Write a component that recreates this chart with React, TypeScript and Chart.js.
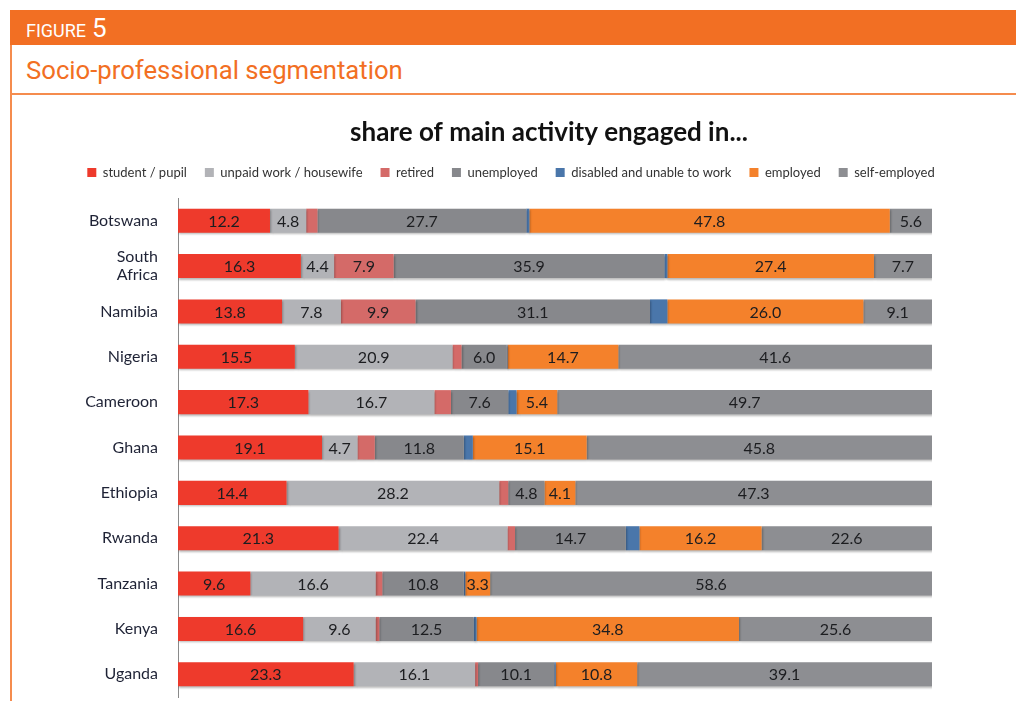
import React, { useEffect, useRef } from "react";
import { Chart, registerables } from "chart.js";

Chart.register(...registerables);

const categories: (string | string[])[] = [
  "Botswana",
  ["South", "Africa"],
  "Namibia",
  "Nigeria",
  "Cameroon",
  "Ghana",
  "Ethiopia",
  "Rwanda",
  "Tanzania",
  "Kenya",
  "Uganda",
];

const chartTitle = "share of main activity engaged in...";

const seriesNames = [
  "student / pupil",
  "unpaid work / housewife",
  "retired",
  "unemployed",
  "disabled and unable to work",
  "employed",
  "self-employed",
];

const student = [12.2, 16.3, 13.8, 15.5, 17.3, 19.1, 14.4, 21.3, 9.6, 16.6, 23.3];
const unpaid = [4.8, 4.4, 7.8, 20.9, 16.7, 4.7, 28.2, 22.4, 16.6, 9.6, 16.1];
const retired = [1.5, 7.9, 9.9, 1.2, 2.2, 2.3, 1.2, 1.0, 0.9, 0.5, 0.4];
const unemployed = [27.7, 35.9, 31.1, 6.0, 7.6, 11.8, 4.8, 14.7, 10.8, 12.5, 10.1];
const disabled = [0.4, 0.4, 2.3, 0.1, 1.1, 1.2, 0, 1.8, 0.2, 0.4, 0.2];
const employed = [47.8, 27.4, 26.0, 14.7, 5.4, 15.1, 4.1, 16.2, 3.3, 34.8, 10.8];
const selfEmployed = [5.6, 7.7, 9.1, 41.6, 49.7, 45.8, 47.3, 22.6, 58.6, 25.6, 39.1];

const seriesValues = [student, unpaid, retired, unemployed, disabled, employed, selfEmployed];
const seriesColors = ["#ee3a2c", "#b2b3b7", "#d46a68", "#87888c", "#4a76aa", "#f4812b", "#8d8e92"];

const LABEL_MIN = 3;
const FONT = "Lato, 'Open Sans', sans-serif";

const shadowPlugin = {
  id: "barShadow",
  beforeDatasetsDraw(chart: any) {
    const ctx = chart.ctx;
    ctx.save();
    ctx.shadowColor = "rgba(0,0,0,0.28)";
    ctx.shadowBlur = 2;
    ctx.shadowOffsetX = 1;
    ctx.shadowOffsetY = 1.5;
  },
  afterDatasetsDraw(chart: any) {
    chart.ctx.restore();
  },
};

const valueLabelPlugin = {
  id: "valueLabels",
  afterDraw(chart: any) {
    const ctx = chart.ctx;
    ctx.save();
    ctx.font = "16px " + FONT;
    ctx.fillStyle = "#1c1d20";
    ctx.textAlign = "center";
    ctx.textBaseline = "middle";
    chart.data.datasets.forEach((ds: any, di: number) => {
      const meta = chart.getDatasetMeta(di);
      meta.data.forEach((bar: any, i: number) => {
        const v = ds.data[i];
        if (v >= LABEL_MIN) {
          const { x, base, y } = bar.getProps(["x", "base", "y"], true);
          ctx.fillText(v.toFixed(1), (x + base) / 2, y + 1);
        }
      });
    });
    ctx.restore();
  },
};

const titlePlugin = {
  id: "centerTitle",
  afterDraw(chart: any) {
    const ctx = chart.ctx;
    const area = chart.chartArea;
    ctx.save();
    ctx.font = "bold 26px " + FONT;
    ctx.fillStyle = "#111111";
    ctx.textAlign = "center";
    ctx.textBaseline = "middle";
    ctx.fillText(chartTitle, (area.left + area.right) / 2 - 6, 37);
    ctx.restore();
  },
};

const legendSpacer = {
  id: "legendSpacer",
  beforeInit(chart: any) {
    const legend = chart.legend;
    if (!legend) return;
    const origFit = legend.fit;
    legend.fit = function () {
      origFit.call(this);
      this.height += 9;
    };
  },
  afterLayout(chart: any) {
    const lg = chart.legend;
    if (!lg) return;
    lg.left = 0;
    lg.right = 1022;
    lg.width = 1022;
  },
};

export default function App() {
  const ref = useRef<HTMLCanvasElement | null>(null);

  useEffect(() => {
    if (!ref.current) return;
    const chart = new Chart(ref.current, {
      type: "bar",
      data: {
        labels: categories as any,
        datasets: seriesNames.map((name, i) => ({
          label: name,
          data: seriesValues[i],
          backgroundColor: seriesColors[i],
          borderWidth: 0,
          barPercentage: 0.53,
          categoryPercentage: 1,
        })),
      },
      options: {
        indexAxis: "y",
        animation: false,
        responsive: false,
        maintainAspectRatio: false,
        layout: { padding: { left: 0, right: 84, top: 52, bottom: 4 } },
        scales: {
          x: {
            stacked: true,
            min: 0,
            max: 100,
            display: false,
          },
          y: {
            stacked: true,
            grid: { display: false },
            border: { display: true, color: "#8a8a8a", width: 1 },
            ticks: {
              padding: 12,
              color: "#1e2235",
              font: { family: FONT, size: 16, lineHeight: 1.15 },
            },
            afterFit(scale: any) {
              scale.width = 178;
              scale.paddingTop = 0;
              scale.paddingBottom = 0;
            },
          },
        },
        plugins: {
          title: { display: false },
          legend: {
            display: true,
            position: "top",
            labels: {
              boxWidth: 9,
              boxHeight: 9,
              padding: 18,
              color: "#333333",
              font: { family: FONT, size: 13 },
            },
          },
          tooltip: { enabled: false },
        },
      },
      plugins: [shadowPlugin, valueLabelPlugin, titlePlugin, legendSpacer],
    } as any);
    return () => chart.destroy();
  }, []);

  return (
    <div
      style={{
        position: "absolute",
        left: 0,
        top: 0,
        width: 1016,
        height: 701,
        background: "#ffffff",
        overflow: "hidden",
        fontFamily: "Roboto, 'Open Sans', sans-serif",
      }}
    >
      <div
        style={{
          position: "absolute",
          left: 10,
          top: 10,
          width: 1006,
          height: 35,
          background: "#f26f23",
        }}
      />
      <div
        style={{
          position: "absolute",
          left: 26,
          top: 14,
          color: "#ffffff",
          lineHeight: "28px",
          whiteSpace: "nowrap",
        }}
      >
        <span style={{ fontSize: 18, letterSpacing: 0 }}>FIGURE</span>
        <span style={{ fontSize: 26, marginLeft: 6 }}>5</span>
      </div>
      <div
        style={{
          position: "absolute",
          left: 10,
          top: 45,
          width: 2,
          height: 656,
          background: "#f58c4e",
        }}
      />
      <div
        style={{
          position: "absolute",
          left: 26,
          top: 53,
          color: "#f26f23",
          fontSize: 25.7,
          lineHeight: "34px",
          whiteSpace: "nowrap",
        }}
      >
        Socio-professional segmentation
      </div>
      <div
        style={{
          position: "absolute",
          left: 10,
          top: 93,
          width: 1006,
          height: 2,
          background: "#f58c4e",
        }}
      />
      <canvas
        ref={ref}
        width={1016}
        height={605}
        style={{ position: "absolute", left: 0, top: 96, width: 1016, height: 605 }}
      />
    </div>
  );
}
